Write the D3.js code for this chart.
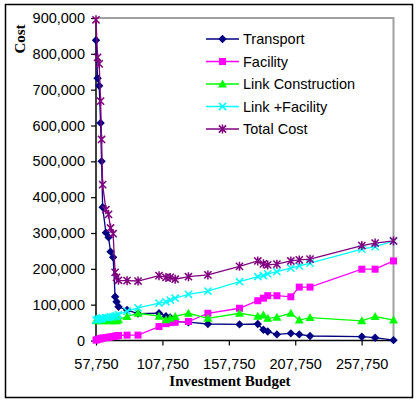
<!DOCTYPE html>
<html>
<head>
<meta charset="utf-8">
<script src="https://cdn.jsdelivr.net/npm/d3@7/dist/d3.min.js"></script>
<style>
  html, body { margin: 0; padding: 0; background: #fff; }
  svg { display: block; }
</style>
</head>
<body>
<svg id="chart" width="416" height="401"></svg>
<script>
// Investment budget (x) for each solved scenario
const budget = [57750, 58950, 60150, 61200, 61950, 62750, 65200, 67200, 68700, 70650,
  72150, 73200, 74700, 81150, 89400, 105200, 110450, 113600, 117350, 127350,
  142000, 165800, 179550, 183800, 187050, 193950, 204450, 210800, 218900, 257900,
  267900, 281750];

// Cost components for each scenario
const transport = [838000, 732000, 711000, 607000, 500000, 372000, 301000, 288000, 248000, 232000,
  122000, 108000, 94000, 85000, 75000, 76000, 68000, 64000, 53000, 51000,
  46000, 45000, 46000, 30000, 25000, 17000, 20000, 17000, 12600, 10600,
  7800, 1000];
const facility = [1000, 3000, 4000, 5000, 6000, 7000, 8000, 9000, 10000, 11000,
  12000, 13000, 14000, 15000, 15000, 39000, 47000, 50000, 51000, 53000,
  76000, 90000, 111000, 118000, 125000, 125000, 122000, 149000, 149000, 199000,
  199000, 222000];
const linkConstruction = [56000, 55000, 56000, 56000, 55000, 56000, 56000, 55000, 56000, 55000,
  56000, 55000, 58000, 67000, 76000, 68000, 58000, 62000, 67000, 76000,
  62000, 76000, 68000, 71000, 62000, 65000, 76000, 57000, 64000, 55000,
  67000, 57000];
const linkFacility = [57000, 58000, 60000, 61000, 61000, 63000, 64000, 64000, 66000, 66000,
  68000, 68000, 72000, 82000, 91000, 104000, 108000, 113000, 118000, 129000,
  138000, 164000, 178000, 181000, 186000, 192000, 202000, 208000, 216000, 255000,
  262000, 277000];
const totalCost = [895000, 790000, 772000, 668000, 561000, 435000, 365000, 352000, 314000, 298000,
  190000, 176000, 168000, 167000, 166000, 181000, 176000, 176000, 171000, 178000,
  183000, 207000, 222000, 214000, 211000, 213000, 222000, 225000, 227000, 265000,
  272000, 278000];

const xTicks = [57750, 107750, 157750, 207750, 257750];
const yTicks = [0, 100000, 200000, 300000, 400000, 500000, 600000, 700000, 800000, 900000];

const seriesNames = ["Transport", "Facility", "Link Construction", "Link +Facility", "Total Cost"];
const seriesValues = [transport, facility, linkConstruction, linkFacility, totalCost];
const seriesColors = ["#000080", "#ff00ff", "#00ff00", "#00ffff", "#800080"];
const seriesMarkers = ["diamond", "square", "triangle", "x", "star"];

const svg = d3.select("#chart");
const plot = { left: 96, right: 393.5, top: 18, bottom: 340.5 };

// chart frame
svg.append("rect")
  .attr("x", 5.5).attr("y", 4.5).attr("width", 407).attr("height", 393)
  .attr("fill", "#fff").attr("stroke", "#000").attr("stroke-width", 1.5);

const x = d3.scaleLinear().domain([57750, 281750]).range([plot.left, plot.right]);
const y = d3.scaleLinear().domain([0, 900000]).range([plot.bottom, plot.top]);

// plot-area border (top and right)
svg.append("path")
  .attr("d", `M${plot.left},${plot.top}H${plot.right}V${plot.bottom}`)
  .attr("fill", "none").attr("stroke", "#a0a0a0").attr("stroke-width", 2);

const fmt = d3.format(",");

// y axis
const yAxis = svg.append("g")
  .attr("transform", `translate(${plot.left},0)`)
  .call(d3.axisLeft(y).tickValues(yTicks).tickFormat(fmt).tickSize(5).tickPadding(6));
// x axis
const xAxis = svg.append("g")
  .attr("transform", `translate(0,${plot.bottom})`)
  .call(d3.axisBottom(x).tickValues(xTicks).tickFormat(fmt).tickSize(5).tickPadding(13));

[yAxis, xAxis].forEach(g => {
  g.select(".domain").attr("stroke", "#000").attr("stroke-width", 1.5);
  g.selectAll(".tick line").attr("stroke", "#000").attr("stroke-width", 1.2);
  g.selectAll(".tick text")
    .attr("fill", "#000")
    .style("font-family", "'Liberation Sans', Arial, sans-serif")
    .style("font-size", "14.5px");
});
yAxis.select(".domain").attr("d", `M0,${plot.top}V${plot.bottom}`);
xAxis.select(".domain").attr("d", `M${plot.left},0H${plot.right}`);

// axis titles
svg.append("text")
  .attr("x", 230).attr("y", 386)
  .attr("text-anchor", "middle")
  .style("font-family", "'Liberation Serif', 'Times New Roman', serif")
  .style("font-weight", "bold").style("font-size", "15px")
  .text("Investment Budget");
svg.append("text")
  .attr("transform", "translate(25,39) rotate(-90)")
  .attr("text-anchor", "middle")
  .style("font-family", "'Liberation Serif', 'Times New Roman', serif")
  .style("font-weight", "bold").style("font-size", "15px")
  .text("Cost");

// marker drawing
function drawMarker(g, kind, color) {
  if (kind === "diamond") {
    g.append("path").attr("d", "M0,-4.2L4.2,0L0,4.2L-4.2,0Z").attr("fill", color);
  } else if (kind === "square") {
    g.append("rect").attr("x", -3.5).attr("y", -3.5).attr("width", 7).attr("height", 7).attr("fill", color);
  } else if (kind === "triangle") {
    g.append("path").attr("d", "M0,-4.5L4.5,3.5L-4.5,3.5Z").attr("fill", color);
  } else if (kind === "x") {
    g.append("path").attr("d", "M-3.6,-3.6L3.6,3.6M-3.6,3.6L3.6,-3.6")
      .attr("stroke", color).attr("stroke-width", 1.5).attr("fill", "none");
  } else if (kind === "star") {
    g.append("path").attr("d", "M-3.6,-3.6L3.6,3.6M-3.6,3.6L3.6,-3.6M0,-4.5V4.5")
      .attr("stroke", color).attr("stroke-width", 1.5).attr("fill", "none");
  }
}

const line = d3.line().x(d => x(d[0])).y(d => y(d[1]));

const clipId = "plotclip";
svg.append("clipPath").attr("id", clipId).append("rect")
  .attr("x", plot.left - 6).attr("y", plot.top - 6)
  .attr("width", plot.right - plot.left + 12).attr("height", plot.bottom - plot.top + 12);

const seriesLayer = svg.append("g").attr("clip-path", `url(#${clipId})`);
seriesValues.forEach((vals, i) => {
  const pts = budget.map((b, j) => [b, vals[j]]);
  const g = seriesLayer.append("g");
  g.append("path").datum(pts).attr("d", line)
    .attr("fill", "none").attr("stroke", seriesColors[i]).attr("stroke-width", 1.3);
  pts.forEach(p => {
    const m = g.append("g").attr("transform", `translate(${x(p[0])},${y(p[1])})`);
    drawMarker(m, seriesMarkers[i], seriesColors[i]);
  });
});

// legend
const legend = svg.append("g");
seriesNames.forEach((name, i) => {
  const cy = 39 + i * 22.5;
  legend.append("line").attr("x1", 206).attr("x2", 239).attr("y1", cy).attr("y2", cy)
    .attr("stroke", seriesColors[i]).attr("stroke-width", 1.3);
  const m = legend.append("g").attr("transform", `translate(222.5,${cy})`);
  drawMarker(m, seriesMarkers[i], seriesColors[i]);
  legend.append("text").attr("x", 243).attr("y", cy).attr("dy", "0.36em")
    .style("font-family", "'Liberation Sans', Arial, sans-serif")
    .style("font-size", "14.5px")
    .text(name);
});
</script>
</body>
</html>
